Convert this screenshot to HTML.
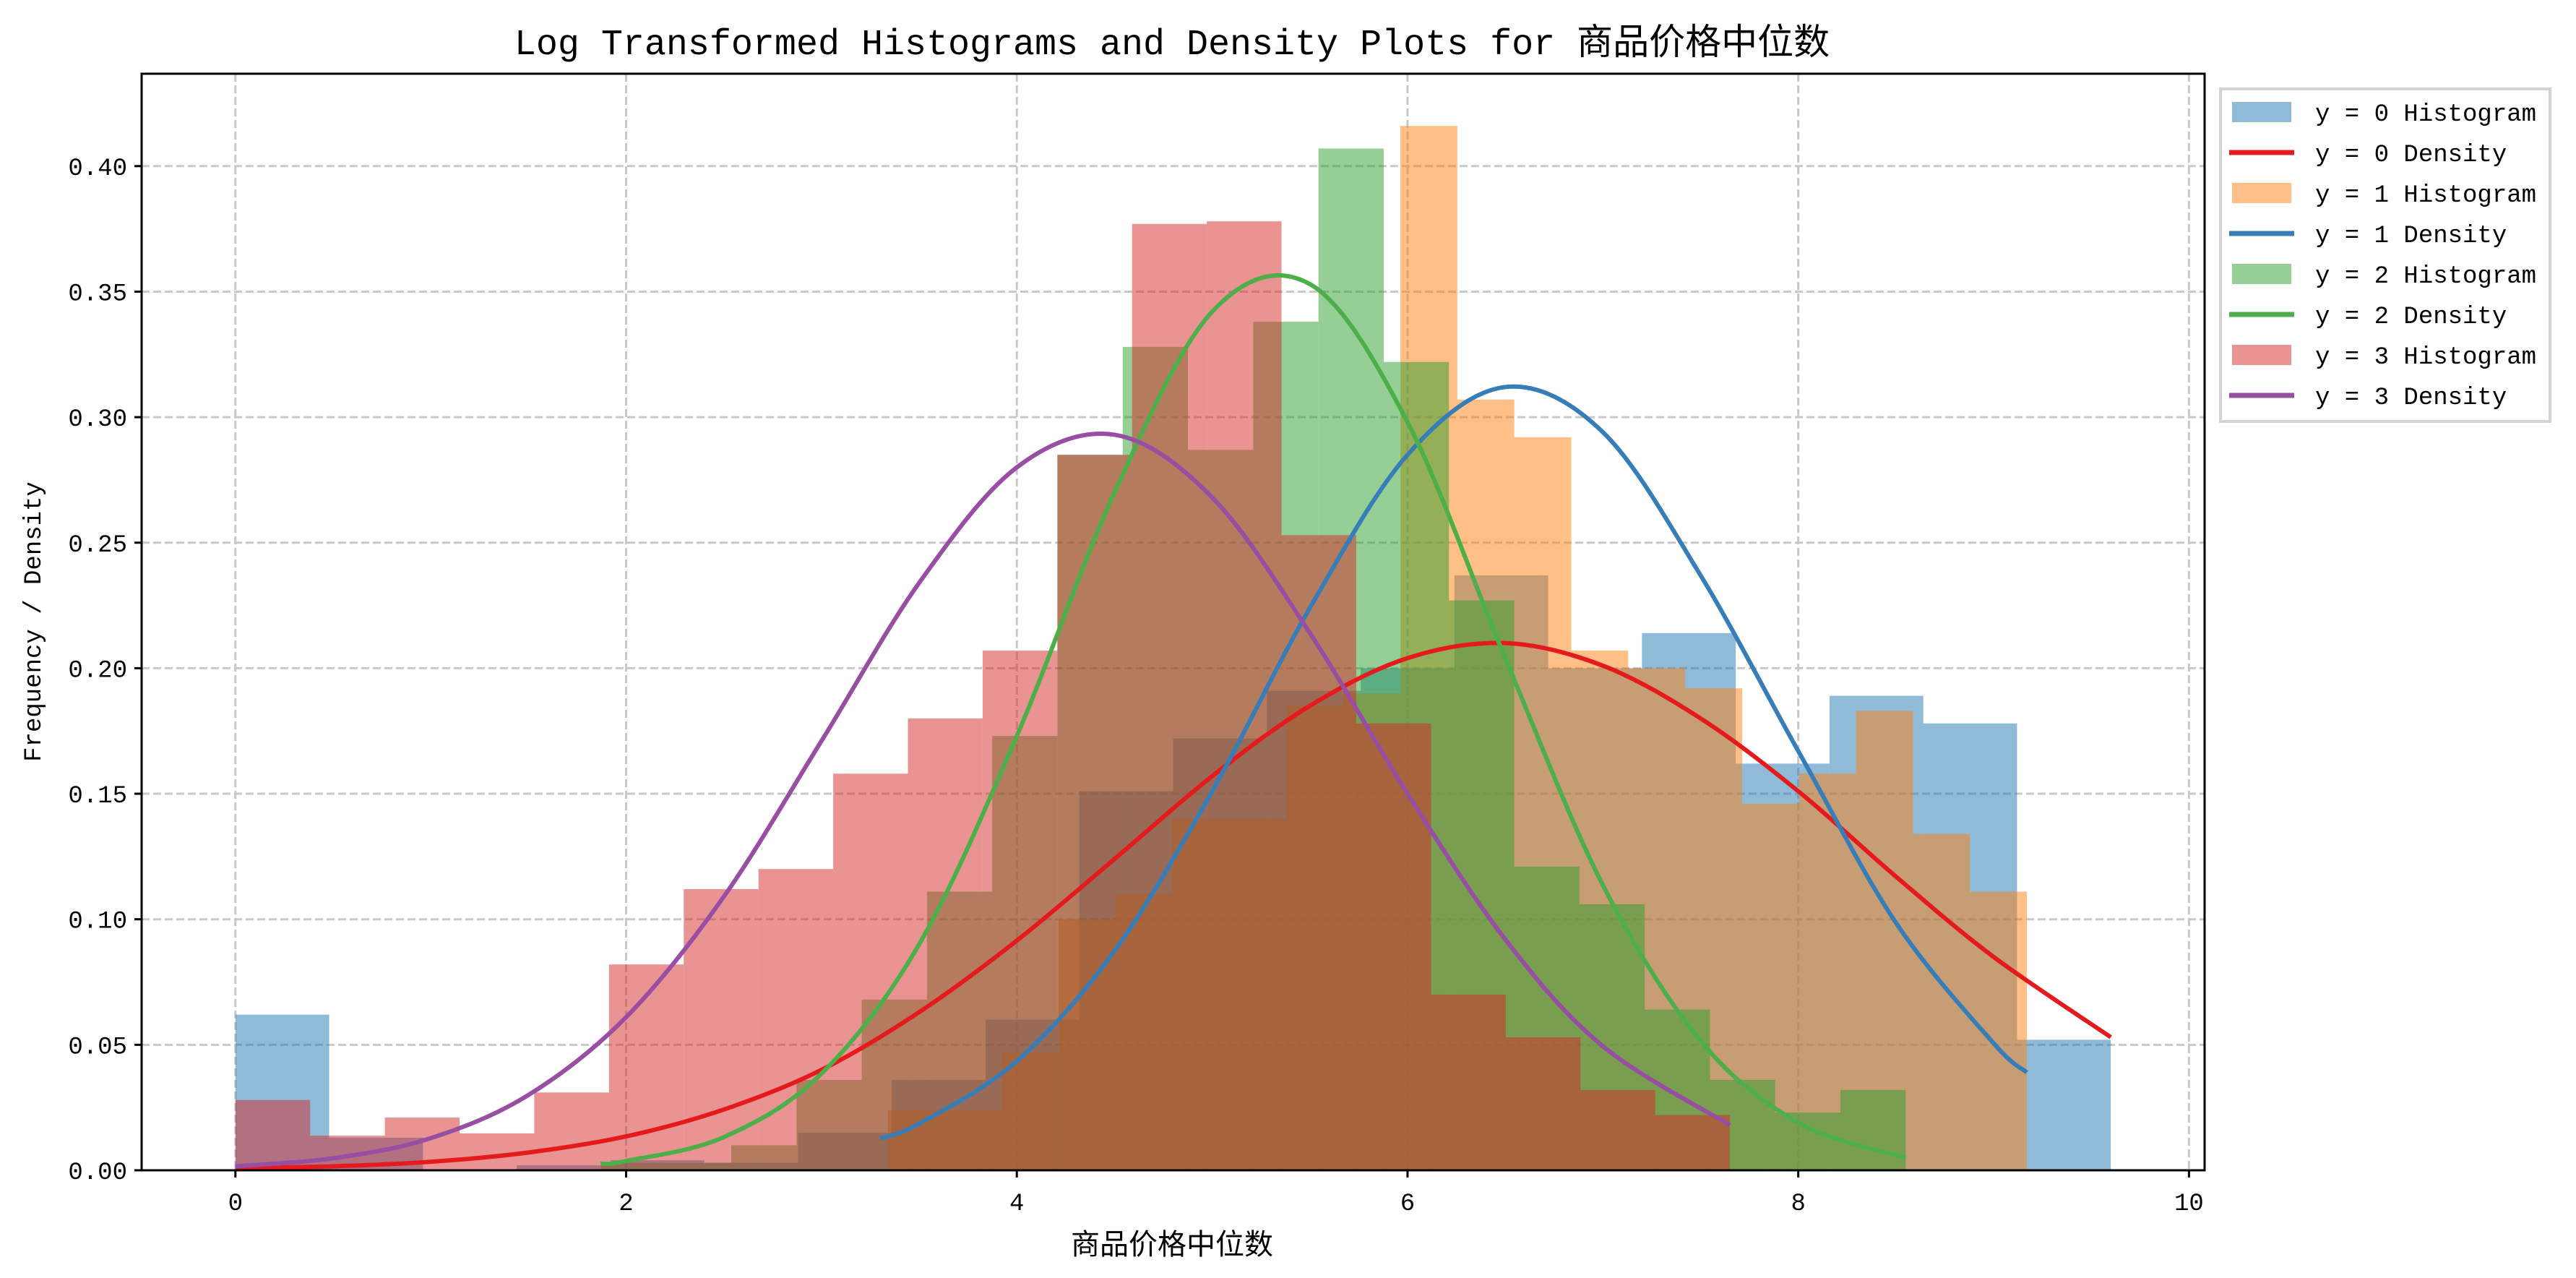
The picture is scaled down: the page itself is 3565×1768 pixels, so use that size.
<!DOCTYPE html>
<html><head><meta charset="utf-8"><style>
html,body{margin:0;padding:0;background:#fff;}
svg{display:block;}
text{font-family:"Liberation Mono","Noto Sans CJK SC",monospace;}
</style></head><body>
<svg id="chart" xmlns="http://www.w3.org/2000/svg" width="3565" height="1768" viewBox="0 0 3565 1768">
<rect x="0" y="0" width="3565" height="1768" fill="#fff"/>
<text x="1622" y="75" font-size="50" text-anchor="middle">Log Transformed Histograms and Density Plots for 商品价格中位数</text>
<g id="grid"></g>
<g id="hists"></g>
<g id="lines"></g>
<g id="axes"></g>
<text x="1622" y="1735" font-size="40" text-anchor="middle">商品价格中位数</text>
<text x="0" y="0" font-size="34" text-anchor="middle" transform="translate(56,860) rotate(-90)">Frequency / Density</text>
<g id="legend"></g>
</svg>
<script>
// ---- data ----
const xTicks = [0, 2, 4, 6, 8, 10];
const yTicks = [0, 0.05, 0.10, 0.15, 0.20, 0.25, 0.30, 0.35, 0.40];
const yTickLabels = ["0.00","0.05","0.10","0.15","0.20","0.25","0.30","0.35","0.40"];
const groupLabels = ["0", "1", "2", "3"];
const histRange0 = [0, 9.6];
const histRange1 = [3.34, 9.17];
const histRange2 = [1.87, 8.55];
const histRange3 = [0, 7.65];
const hist0 = [0.062,0.013,0,0.002,0.004,0.003,0.015,0.036,0.06,0.151,0.172,0.191,0.20,0.237,0.20,0.214,0.162,0.189,0.178,0.052];
const hist1 = [0.024,0.024,0.047,0.10,0.11,0.14,0.14,0.185,0.19,0.416,0.307,0.292,0.207,0.20,0.192,0.146,0.158,0.183,0.134,0.111];
const hist2 = [0.003,0.003,0.01,0.036,0.068,0.111,0.173,0.285,0.328,0.287,0.338,0.407,0.322,0.227,0.121,0.106,0.064,0.036,0.023,0.032];
const hist3 = [0.028,0.0138,0.021,0.0147,0.031,0.082,0.112,0.12,0.158,0.18,0.207,0.285,0.377,0.378,0.253,0.178,0.07,0.053,0.032,0.022];
const densX0 = [0,0.5,1,1.5,2,2.5,3,3.5,4,4.5,5,5.5,6,6.5,7,7.5,8,8.5,9,9.6];
const densY0 = [0.001,0.0016,0.0034,0.0071,0.0135,0.0242,0.040,0.063,0.0915,0.124,0.157,0.185,0.204,0.21,0.201,0.180,0.151,0.117,0.085,0.053];
const densX1 = [3.3,3.5,4,4.5,5,5.5,6,6.5,7,7.5,8,8.5,9,9.17];
const densY1 = [0.0127,0.0186,0.0435,0.0874,0.151,0.224,0.285,0.312,0.294,0.237,0.167,0.0986,0.0506,0.039];
const densX2 = [1.87,2,2.5,3,3.5,4,4.5,5,5.5,6,6.5,7,7.5,8,8.55];
const densY2 = [0.0026,0.0037,0.0132,0.0385,0.090,0.173,0.27,0.342,0.353,0.298,0.204,0.1136,0.0516,0.019,0.005];
const densX3 = [0,0.5,1,1.5,2,2.5,3,3.5,4,4.5,5,5.5,6,6.5,7,7.65];
const densY3 = [0.0016,0.0048,0.0128,0.030,0.061,0.109,0.171,0.234,0.280,0.293,0.268,0.214,0.150,0.092,0.0494,0.018];

// ---- layout ----
const L = 196, R = 3051, T = 102, B = 1619;
const xMin = -0.48, xMax = 10.08, yMin = 0, yMax = 0.4368;
const sx = v => L + (v - xMin) / (xMax - xMin) * (R - L);
const sy = v => B - (v - yMin) / (yMax - yMin) * (B - T);
const NS = "http://www.w3.org/2000/svg";
function mk(tag, attrs, parent) {
  const e = document.createElementNS(NS, tag);
  for (const k in attrs) e.setAttribute(k, attrs[k]);
  parent.appendChild(e);
  return e;
}
const grid = document.getElementById('grid');
const hists = document.getElementById('hists');
const lines = document.getElementById('lines');
const axes = document.getElementById('axes');
const legend = document.getElementById('legend');

// grid
xTicks.forEach(t => {
  const g = mk('line', {x1: sx(t), x2: sx(t), y1: T, y2: B, stroke: '#c8c8c8', 'stroke-width': 3, 'stroke-dasharray': '11 5'}, grid);
  
  
});
yTicks.forEach(t => {
  const g = mk('line', {x1: L, x2: R, y1: sy(t), y2: sy(t), stroke: '#c8c8c8', 'stroke-width': 3, 'stroke-dasharray': '11 5'}, grid);
  
  
});

// histograms
const histColors = ['#1f77b4', '#ff7f0e', '#2ca02c', '#d62728'];
const histData = [hist0, hist1, hist2, hist3];
const histRanges = [histRange0, histRange1, histRange2, histRange3];
histData.forEach((h, gi) => {
  const r = histRanges[gi];
  const w = (r[1] - r[0]) / h.length;
  h.forEach((v, i) => {
    const x0 = r[0] + i * w, x1 = x0 + w;
    const rect = mk('rect', {x: sx(x0), y: sy(v), width: sx(x1) - sx(x0), height: sy(0) - sy(v), fill: histColors[gi], 'fill-opacity': 0.5}, hists);
    
    
  });
});

// density lines
const lineColors = ['#e41a1c', '#377eb8', '#4daf4a', '#984ea3'];
const densXs = [densX0, densX1, densX2, densX3];
const densYs = [densY0, densY1, densY2, densY3];
function smoothPath(xs, ys) {
  const p = xs.map((x, i) => [sx(x), sy(ys[i])]);
  let d = 'M' + p[0][0] + ',' + p[0][1];
  for (let i = 0; i < p.length - 1; i++) {
    const p0 = p[Math.max(0, i - 1)], p1 = p[i], p2 = p[i + 1], p3 = p[Math.min(p.length - 1, i + 2)];
    const c1 = [p1[0] + (p2[0] - p0[0]) / 6, p1[1] + (p2[1] - p0[1]) / 6];
    const c2 = [p2[0] - (p3[0] - p1[0]) / 6, p2[1] - (p3[1] - p1[1]) / 6];
    d += ' C' + c1[0] + ',' + c1[1] + ' ' + c2[0] + ',' + c2[1] + ' ' + p2[0] + ',' + p2[1];
  }
  return d;
}
densXs.forEach((xs, gi) => {
  const pth = mk('path', {d: smoothPath(xs, densYs[gi]), fill: 'none', stroke: lineColors[gi], 'stroke-width': 6}, lines);
  
  
});

// axes frame
const frame = mk('rect', {x: L, y: T, width: R - L, height: B - T, fill: 'none', stroke: '#000', 'stroke-width': 3}, axes);


xTicks.forEach(t => {
  const tk = mk('line', {x1: sx(t), x2: sx(t), y1: B, y2: B + 10, stroke: '#000', 'stroke-width': 3}, axes);
  
  
  const lb = mk('text', {x: sx(t), y: B + 55, 'font-size': 34, 'text-anchor': 'middle'}, axes);
  lb.textContent = String(t);
  
  
});
yTicks.forEach((t, i) => {
  const tk = mk('line', {x1: L - 10, x2: L, y1: sy(t), y2: sy(t), stroke: '#000', 'stroke-width': 3}, axes);
  
  
  const lb = mk('text', {x: L - 20, y: sy(t) + 12, 'font-size': 34, 'text-anchor': 'end'}, axes);
  lb.textContent = yTickLabels[i];
  
  
});

// legend
const box = mk('rect', {x: 3073, y: 123, width: 456, height: 460, fill: '#fff', stroke: '#d4d4d4', 'stroke-width': 4}, legend);


groupLabels.forEach((g, gi) => {
  const cyH = 155 + gi * 2 * 56;
  const cyD = cyH + 56;
  const sw = mk('rect', {x: 3089, y: cyH - 14, width: 82, height: 28, fill: histColors[gi], 'fill-opacity': 0.5}, legend);
  
  
  const t1 = mk('text', {x: 3204, y: cyH + 12, 'font-size': 34}, legend);
  t1.textContent = 'y = ' + g + ' Histogram';
  
  
  const ln = mk('line', {x1: 3085, x2: 3175, y1: cyD, y2: cyD, stroke: lineColors[gi], 'stroke-width': 7}, legend);
  
  
  const t2 = mk('text', {x: 3204, y: cyD + 12, 'font-size': 34}, legend);
  t2.textContent = 'y = ' + g + ' Density';
  
  
});
</script>
</body></html>
